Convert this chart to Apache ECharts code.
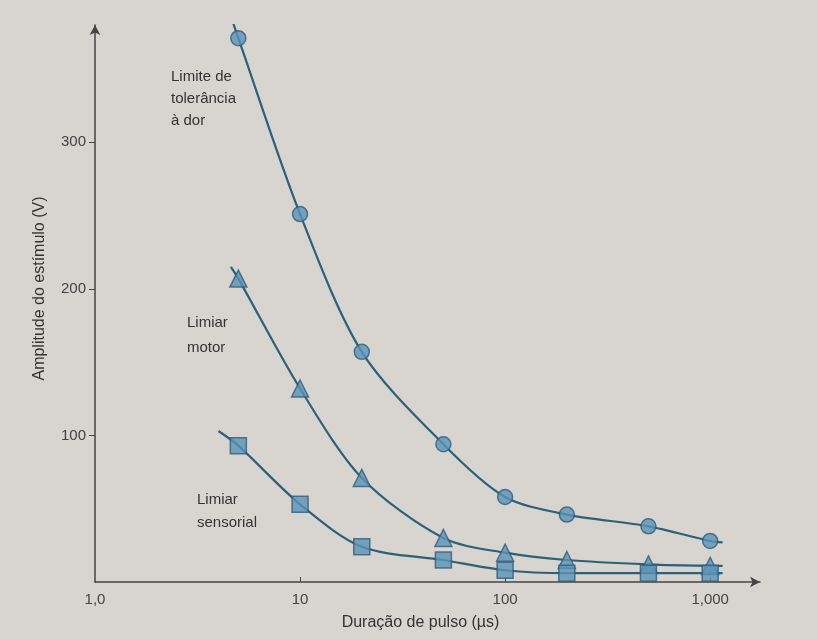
<!DOCTYPE html>
<html>
<head>
<meta charset="utf-8">
<script src="https://cdn.jsdelivr.net/npm/echarts@6/dist/echarts.min.js"></script>
<style>
  html, body { margin: 0; padding: 0; background: #d8d5d1; }
  #chart { width: 817px; height: 639px; }
</style>
</head>
<body>
<div id="chart"></div>
<script>
// durações de pulso (µs)
var durations = [5, 10, 20, 50, 100, 200, 500, 1000];
// amplitudes (V)
var dorValues = [371, 251, 157, 94, 58, 46, 38, 28];
var motorValues = [207, 132, 71, 30, 20, 15, 12, 11];
var sensorialValues = [93, 53, 24, 15, 8, 6, 6, 6];
// pontas das curvas além dos marcadores
var dorEnds = [[4.5, 390], [1150, 27]];
var motorEnds = [[4.6, 215], [1150, 11]];
var sensorialEnds = [[4.0, 103], [1150, 6]];
var xTicks = {1: '1,0', 10: '10', 100: '100', 1000: '1,000'};
var yTicks = [100, 200, 300];

function pts(vals) {
  return durations.map(function (d, i) { return [d, vals[i]]; });
}
function curve(vals, ends) {
  return [ends[0]].concat(pts(vals)).concat([ends[1]]);
}

var lineColor = '#2e6078';
var fillColor = '#5b92b6';
var edgeColor = '#2f5d7a';
var font = 'Liberation Sans';

function lineSeries(vals, ends) {
  return {
    type: 'line',
    data: curve(vals, ends),
    smooth: 0.3,
    showSymbol: false,
    symbol: 'none',
    lineStyle: { color: lineColor, width: 2.2 },
    z: 2
  };
}
function markSeries(vals, symbol, size) {
  return {
    type: 'scatter',
    data: pts(vals),
    symbol: symbol,
    symbolSize: size,
    itemStyle: { color: fillColor, borderColor: edgeColor, borderWidth: 1.5 },
    z: 3
  };
}

var chart = echarts.init(document.getElementById('chart'));
var option = {
  backgroundColor: '#d8d5d1',
  animation: false,
  grid: { left: 95, right: 57, top: 25, bottom: 57 },
  xAxis: {
    type: 'log',
    logBase: 10,
    min: 1,
    max: 1750,
    name: 'Duração de pulso (µs)',
    nameLocation: 'middle',
    nameGap: 33,
    nameTextStyle: { color: '#333', fontSize: 16, fontFamily: font, padding: [0, 14, 0, 0] },
    axisLine: { lineStyle: { color: '#444', width: 1.5 }, symbol: ['none', 'arrow'], symbolSize: [8, 10] },
    axisTick: { show: true, inside: true, length: 5, lineStyle: { color: '#444' }, customValues: [10, 100, 1000] },
    minorTick: { show: false },
    splitLine: { show: false },
    axisLabel: {
      color: '#444', fontSize: 15, fontFamily: font, margin: 10,
      customValues: [1, 10, 100, 1000],
      formatter: function (v) { return xTicks[Math.round(v)] || ''; }
    }
  },
  yAxis: {
    type: 'value',
    min: 0,
    max: 380,
    interval: 100,
    name: 'Amplitude do estímulo (V)',
    nameLocation: 'middle',
    nameGap: 47,
    nameTextStyle: { color: '#333', fontSize: 16, fontFamily: font, padding: [0, 0, 0, 30] },
    axisLine: { show: true, lineStyle: { color: '#444', width: 1.5 }, symbol: ['none', 'arrow'], symbolSize: [8, 10] },
    axisTick: { show: true, length: 6, lineStyle: { color: '#444' }, customValues: yTicks },
    splitLine: { show: false },
    axisLabel: {
      color: '#444', fontSize: 15, fontFamily: font, margin: 9,
      customValues: yTicks
    }
  },
  graphic: [
    { type: 'text', left: 171, top: 66, style: { text: 'Limite de\ntolerância\nà dor', fill: '#333', font: '15px Liberation Sans', lineHeight: 22 } },
    { type: 'text', left: 187, top: 310, style: { text: 'Limiar\nmotor', fill: '#333', font: '15px Liberation Sans', lineHeight: 25 } },
    { type: 'text', left: 197, top: 488, style: { text: 'Limiar\nsensorial', fill: '#333', font: '15px Liberation Sans', lineHeight: 23 } }
  ],
  series: [
    lineSeries(dorValues, dorEnds),
    lineSeries(motorValues, motorEnds),
    lineSeries(sensorialValues, sensorialEnds),
    markSeries(dorValues, 'circle', 15),
    markSeries(motorValues, 'triangle', 17),
    markSeries(sensorialValues, 'rect', 16)
  ]
};
chart.setOption(option);
</script>
</body>
</html>
